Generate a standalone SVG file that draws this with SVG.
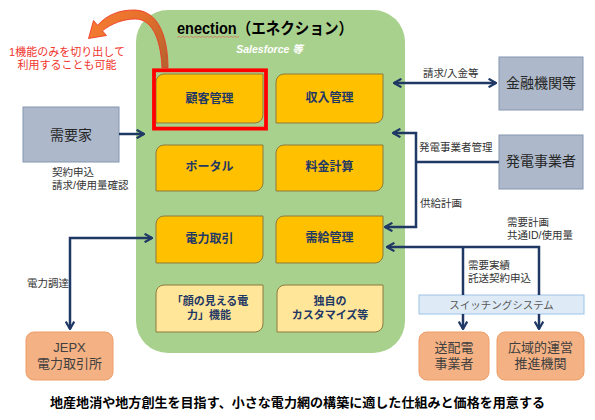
<svg xmlns="http://www.w3.org/2000/svg" width="595" height="420" viewBox="0 0 595 420">
<defs>
<style>
text{font-family:"Liberation Sans","Noto Sans CJK JP",sans-serif;}
.bx{fill:#FFC000;stroke:#8C7B3E;stroke-width:1;}
.bl{fill:#FFE699;stroke:#8C7B3E;stroke-width:1;}
.bt{font-size:12px;font-weight:bold;fill:#1F3864;text-anchor:middle;}
.b2{font-size:11px;font-weight:bold;fill:#1F3864;text-anchor:middle;}
.gb{fill:#ADB9CA;stroke:#8497B0;stroke-width:1;}
.gt{font-size:14px;fill:#262626;text-anchor:middle;}
.sb{fill:#F4B183;stroke:#EE9E68;stroke-width:1;}
.st{font-size:13px;fill:#404040;text-anchor:middle;}
.lb{font-size:10.5px;fill:#333333;}
.rt{font-size:11px;fill:#F0342C;text-anchor:middle;}
.cn{fill:none;stroke:#1F3864;stroke-width:2.5;}
</style>
<marker id="ah" viewBox="0 0 10 10" refX="8.6" refY="5" markerWidth="4" markerHeight="4" orient="auto-start-reverse" markerUnits="strokeWidth">
<path d="M1.2,0.8 L8.6,5 L1.2,9.2" fill="none" stroke="#1F3864" stroke-width="2.2"/>
</marker>
<linearGradient id="og" gradientUnits="userSpaceOnUse" x1="95" y1="20" x2="168" y2="66">
<stop offset="0" stop-color="#F47A30"/>
<stop offset="0.45" stop-color="#E6702C"/>
<stop offset="1" stop-color="#B4622E"/>
</linearGradient>
</defs>
<rect width="595" height="420" fill="#FFFFFF"/>

<g id="enection">
<rect x="136" y="10" width="269" height="343" rx="32" ry="32" fill="#A9D18E"/>
<text x="177" y="34" font-size="16" font-weight="bold" fill="#000000" textLength="176" lengthAdjust="spacingAndGlyphs">enection（エネクション）</text>
<path d="M177,37.5 l2,-1.2 l2,1.2 l2,-1.2 l2,1.2 l2,-1.2 l2,1.2 l2,-1.2 l2,1.2 l2,-1.2 l2,1.2 l2,-1.2 l2,1.2 l2,-1.2 l2,1.2 l2,-1.2 l2,1.2 l2,-1.2 l2,1.2 l2,-1.2 l2,1.2 l2,-1.2 l2,1.2 l2,-1.2 l2,1.2 l2,-1.2 l2,1.2 l2,-1.2 l2,1.2 l2,-1.2 l2,1.2 l2,-1.2" fill="none" stroke="#E05050" stroke-width="0.7" opacity="0.8"/>
<text x="269.5" y="53" font-size="10.5" font-weight="bold" font-style="italic" fill="#FFFFFF" text-anchor="middle">Salesforce 等</text>
</g>

<g id="kokyaku">
<path class="bx" d="M164,74 H263 V115 A8,8 0 0 1 255,123 H156 V82 A8,8 0 0 1 164,74 Z"/>
<text class="bt" x="209.5" y="102.5">顧客管理</text>
</g>
<g id="highlight">
<rect x="154" y="70.3" width="112" height="58.3" fill="none" stroke="#FF0000" stroke-width="3.8"/>
</g>
<g id="shunyu">
<path class="bx" d="M284,74 H383 V115 A8,8 0 0 1 375,123 H276 V82 A8,8 0 0 1 284,74 Z"/>
<text class="bt" x="329.5" y="102">収入管理</text>
</g>
<g id="portal">
<path class="bx" d="M164,145 H263 V183 A8,8 0 0 1 255,191 H156 V153 A8,8 0 0 1 164,145 Z"/>
<text class="bt" x="209.5" y="171">ポータル</text>
</g>
<g id="ryokin">
<path class="bx" d="M284,145 H383 V183 A8,8 0 0 1 375,191 H276 V153 A8,8 0 0 1 284,145 Z"/>
<text class="bt" x="329.5" y="171">料金計算</text>
</g>
<g id="torihiki">
<path class="bx" d="M164,216 H263 V255 A8,8 0 0 1 255,263 H156 V224 A8,8 0 0 1 164,216 Z"/>
<text class="bt" x="209.5" y="243">電力取引</text>
</g>
<g id="jukyu">
<path class="bx" d="M284,216 H383 V255 A8,8 0 0 1 375,263 H276 V224 A8,8 0 0 1 284,216 Z"/>
<text class="bt" x="329.5" y="242">需給管理</text>
</g>
<g id="kao">
<path class="bl" d="M164,285 H263 V324 A8,8 0 0 1 255,332 H156 V293 A8,8 0 0 1 164,285 Z"/>
<text class="b2" x="210" y="305">「顔の見える電</text>
<text class="b2" x="209" y="318.5">力」機能</text>
</g>
<g id="custom">
<path class="bl" d="M285,285 H383 V324 A8,8 0 0 1 375,332 H277 V293 A8,8 0 0 1 285,285 Z"/>
<text class="b2" x="330" y="305">独自の</text>
<text class="b2" x="330" y="318.5">カスタマイズ等</text>
</g>

<g id="jukyoka">
<rect class="gb" x="23" y="107" width="96" height="55"/>
<text class="gt" x="71" y="140">需要家</text>
</g>
<g id="kinyu">
<rect class="gb" x="499" y="57" width="84" height="53"/>
<text class="gt" x="541" y="87.5">金融機関等</text>
</g>
<g id="hatsuden">
<rect class="gb" x="499" y="135" width="84" height="54"/>
<text class="gt" x="541" y="166">発電事業者</text>
</g>
<g id="jepx">
<rect class="sb" x="26" y="332" width="87" height="48" rx="8" ry="8"/>
<text class="st" x="69.5" y="351.5">JEPX</text>
<text class="st" x="69.5" y="368">電力取引所</text>
</g>
<g id="sohaiden">
<rect class="sb" x="419" y="332" width="70" height="48" rx="8" ry="8"/>
<text class="st" x="454" y="352">送配電</text>
<text class="st" x="454" y="368">事業者</text>
</g>
<g id="occto">
<rect class="sb" x="497" y="332" width="87" height="48" rx="8" ry="8"/>
<text class="st" x="540.5" y="352">広域的運営</text>
<text class="st" x="540.5" y="368">推進機関</text>
</g>
<g id="switching">
<rect x="419" y="295" width="165" height="19" fill="#DEEBF7" stroke="#9DC3E6" stroke-width="1"/>
<text x="501.5" y="308.5" font-size="10.5" fill="#595959" text-anchor="middle">スイッチングシステム</text>
</g>

<g id="callout">
<path d="M162,68 C161,45 155,19 135,19 C123,19 111,24 102.4,30.8 L106.5,35.5 L88.5,38.5 L93.5,20.5 L97.6,25.2 C108,14 120,10 134,10 C160,10 168,40 168,68 Z" fill="url(#og)" stroke="#F03020" stroke-width="0.8"/>
<text class="rt" x="67" y="56">1機能のみを切り出して</text>
<text class="rt" x="67" y="69">利用することも可能</text>
</g>

<g id="connectors">
<line class="cn" x1="119" y1="134" x2="144" y2="134" marker-end="url(#ah)"/>
<polyline class="cn" points="70,329 70,238 152,238" marker-start="url(#ah)" marker-end="url(#ah)"/>
<line class="cn" x1="394" y1="83" x2="496" y2="83" marker-start="url(#ah)" marker-end="url(#ah)"/>
<polyline class="cn" points="499,162 416,162"/>
<polyline class="cn" points="393,133 416,133 416,227 385,227" marker-start="url(#ah)" marker-end="url(#ah)"/>
<polyline class="cn" points="539,295 539,247 387,247" marker-end="url(#ah)"/>
<line class="cn" x1="463" y1="247" x2="463" y2="295"/>
<line class="cn" x1="463" y1="314" x2="463" y2="329" marker-end="url(#ah)"/>
<line class="cn" x1="539" y1="314" x2="539" y2="329" marker-end="url(#ah)"/>
</g>

<g id="labels">
<text class="lb" x="423" y="77">請求/入金等</text>
<text class="lb" x="52" y="176">契約申込</text>
<text class="lb" x="52" y="188.5">請求/使用量確認</text>
<text class="lb" x="419" y="151">発電事業者管理</text>
<text class="lb" x="420" y="207">供給計画</text>
<text class="lb" x="507" y="226">需要計画</text>
<text class="lb" x="507" y="239">共通ID/使用量</text>
<text class="lb" x="468" y="269">需要実績</text>
<text class="lb" x="468" y="281.5">託送契約申込</text>
<text class="lb" x="27" y="287">電力調達</text>
</g>

<text x="50" y="407" font-size="13" font-weight="bold" fill="#000000" textLength="495" lengthAdjust="spacingAndGlyphs">地産地消や地方創生を目指す、小さな電力網の構築に適した仕組みと価格を用意する</text>
</svg>
